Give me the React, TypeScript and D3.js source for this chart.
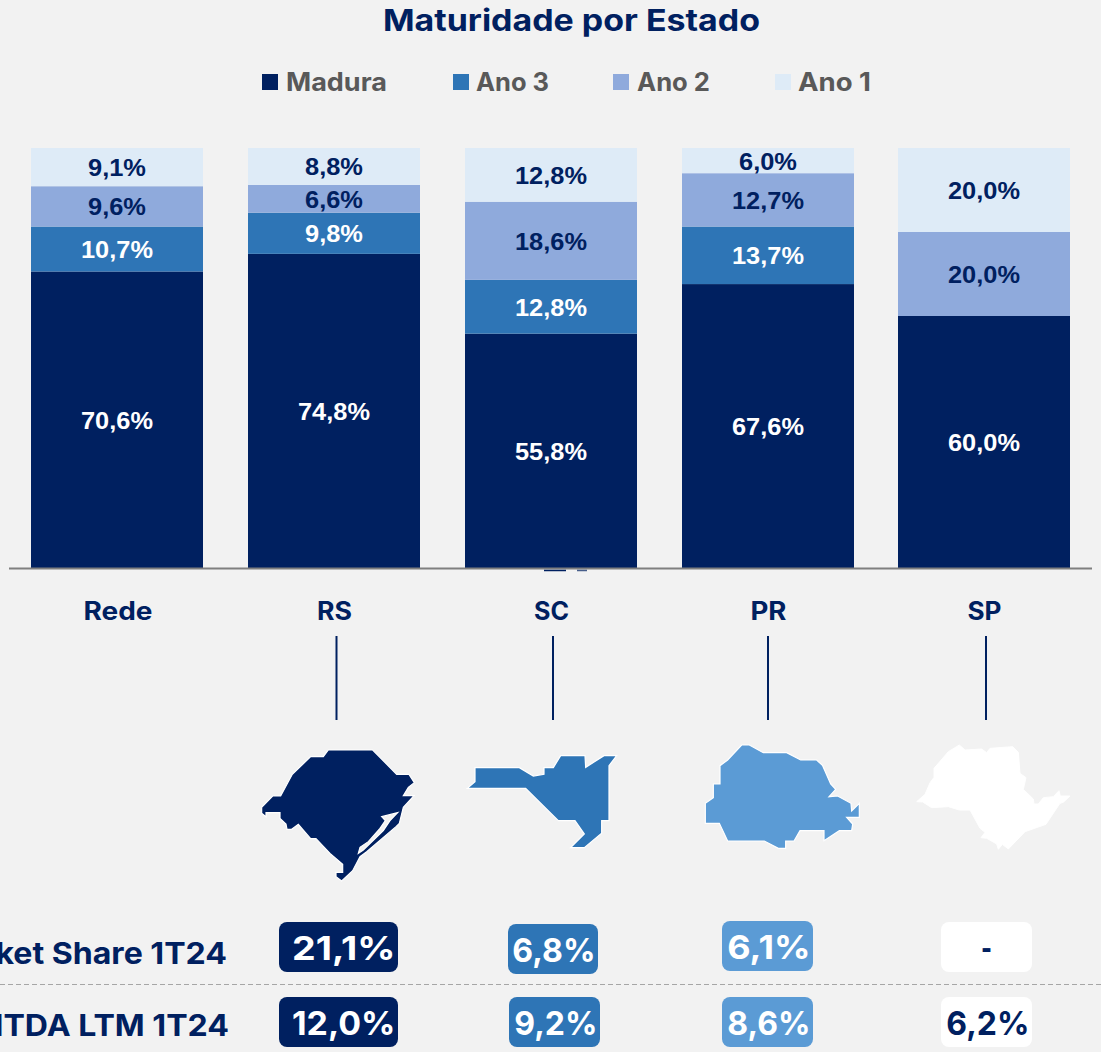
import React from "react";
import * as d3 from "d3";

const categories = ["Rede", "RS", "SC", "PR", "SP"];
const seriesNames = ["Madura", "Ano 3", "Ano 2", "Ano 1"];
const madura = [70.6, 74.8, 55.8, 67.6, 60.0];
const ano3 = [10.7, 9.8, 12.8, 13.7, 0];
const ano2 = [9.6, 6.6, 18.6, 12.7, 20.0];
const ano1 = [9.1, 8.8, 12.8, 6.0, 20.0];
const seriesValues = [madura, ano3, ano2, ano1];
const seriesColors = ["#002060", "#2E75B6", "#8FAADC", "#DEEBF7"];
const labelColors = ["#ffffff", "#ffffff", "#002060", "#002060"];
const legendX = [262, 453, 613, 775];
const legendTextX = [286, 476, 637, 798];
const legendTextW = [101, 73, 73, 73];

const barLeft = [31, 248, 465, 682, 898];
const barWidth = 172;
const catW = [69, 35, 35, 36, 34];

const marketShare = ["21,1%", "6,8%", "6,1%", "-"];
const ebitda = ["12,0%", "9,2%", "8,6%", "6,2%"];
const stateColors = ["#002060", "#2E75B6", "#5B9BD5", "#ffffff"];
const leaderX = [336.5, 553, 768, 986];
const row1Boxes = [[279, 922, 119], [508, 924, 90], [722, 921, 91], [941, 922, 91]];
const row2Boxes = [[279, 997, 119], [509, 997, 91], [722, 997, 91], [941, 997, 91]];

type P = [number, number];
const rsOutline: P[] = [[265,60],[398,60],[470,133],[507,133],[523,158],[505,172],[490,197],[522,197],[490,232],[478,280],[468,290],[380,365],[360,380],[338,422],[305,453],[288,440],[288,427],[308,427],[308,403],[270,370],[228,326],[212,326],[175,283],[155,298],[141,298],[138,282],[120,265],[120,248],[78,248],[78,260],[65,250],[65,232],[98,198],[122,198],[157,133],[212,80],[250,80]];
const rsLagoon: P[] = [[473,248],[425,260],[436,272],[420,295],[385,335],[360,352],[355,370],[370,360],[430,302],[450,272]];
const scOutline: P[] = [[705,113],[838,113],[880,138],[912,133],[912,113],[940,113],[962,77],[1035,77],[1037,112],[1092,77],[1130,77],[1107,107],[1107,272],[1085,272],[1085,310],[1033,353],[992,353],[1033,312],[1005,272],[955,272],[857,175],[682,175],[705,155]];
const prOutline: P[] = [[185,45],[208,45],[250,68],[320,68],[362,90],[410,90],[428,107],[452,162],[467,178],[447,200],[473,198],[513,220],[515,243],[538,220],[538,262],[500,262],[518,282],[515,302],[478,302],[432,332],[432,302],[360,302],[342,333],[317,333],[317,355],[295,355],[253,333],[143,333],[118,280],[76,280],[76,220],[100,203],[100,162],[120,162],[120,107],[143,90]];
const spOutline: P[] = [[838,45],[855,60],[905,57],[920,68],[930,55],[998,50],[1015,67],[1020,130],[1038,143],[1030,178],[1060,207],[1062,222],[1075,222],[1090,203],[1120,200],[1137,182],[1141,198],[1170,198],[1150,217],[1140,220],[1098,283],[1035,305],[985,357],[967,343],[955,358],[950,342],[920,325],[903,323],[915,307],[900,295],[870,240],[838,240],[805,230],[755,233],[728,216],[710,215],[735,193],[750,158],[762,142],[762,115],[805,65]];

const NAVY = "#002060";
const SANS = "'Liberation Sans', Arial, sans-serif";
const DISPLAY = "Inter, 'Noto Sans', sans-serif";

const y = d3.scaleLinear().domain([0, 100]).range([568, 148]);
const line = d3.line<P>().curve(d3.curveLinearClosed);
const map = (pts: P[], ox: number, oy: number) =>
  line(pts.map(([a, b]) => [ox + a / 3, oy + b / 3] as P)) as string;

const stack = d3
  .stack<number>()
  .keys(seriesNames.map((_, i) => i) as any)
  .value((d: any, k: any) => seriesValues[k][d])(categories.map((_, i) => i));

const glyphW = (s: string) =>
  d3.sum(Array.from(s), (c) => (c === "," ? 0.278 : c === "%" ? 0.889 : 0.556));

function Fit(props: any) {
  const { w, children, ...rest } = props;
  return (
    <text textLength={w} lengthAdjust="spacingAndGlyphs" {...rest}>
      {children}
    </text>
  );
}

function Badge({ box, text, fill, color }: any) {
  const [x, yy, w] = box;
  const h = 50;
  const tw = text === "-" ? 11 : glyphW(text) * 36.5;
  const tx = text === "-" ? x + w / 2 - 5.5 : x + w - 2.5 - tw;
  return (
    <g>
      <rect x={x} y={yy} width={w} height={h} rx={8} fill={fill} />
      <Fit x={tx} y={yy + 38} w={tw} fontFamily={DISPLAY} fontWeight={700} fontSize={33} fill={color}
        textAnchor="start">
        {text}
      </Fit>
    </g>
  );
}

export default function App() {
  return (
    <svg width={1101} height={1052} viewBox="0 0 1101 1052"
      style={{ position: "fixed", left: 0, top: 0, display: "block", background: "#F2F2F2" }}>
      <rect width={1101} height={1052} fill="#F2F2F2" />
      <Fit x={383} y={31} w={377} fontFamily={DISPLAY} fontWeight={700} fontSize={30} fill={NAVY}>
        Maturidade por Estado
      </Fit>
      {seriesNames.map((n, i) => (
        <g key={n}>
          <rect x={legendX[i]} y={74} width={16} height={16} fill={seriesColors[i]} />
          <Fit x={legendTextX[i]} y={91} w={legendTextW[i]} fontFamily={DISPLAY} fontWeight={700}
            fontSize={25} fill="#595959">
            {n}
          </Fit>
        </g>
      ))}
      {stack.map((s, k) =>
        s.map((d, i) =>
          d[1] - d[0] > 0 ? (
            <g key={`${k}-${i}`}>
              <rect x={barLeft[i]} y={y(d[1])} width={barWidth} height={y(d[0]) - y(d[1])} fill={seriesColors[k]} />
              {(() => {
                const t = seriesValues[k][i].toFixed(1).replace(".", ",") + "%";
                return (
                  <Fit x={barLeft[i] + barWidth / 2} y={y((d[0] + d[1]) / 2) + 9} w={glyphW(t) * 25.4}
                    textAnchor="middle" fontFamily={SANS} fontWeight={700} fontSize={24} fill={labelColors[k]}>
                    {t}
                  </Fit>
                );
              })()}
            </g>
          ) : null
        )
      )}
      <line x1={9} x2={1092} y1={568.5} y2={568.5} stroke="#7F7F7F" strokeWidth={2} />
      <line x1={544} x2={566} y1={570.5} y2={570.5} stroke={NAVY} strokeWidth={1.5} />
      <line x1={577} x2={587} y1={570.5} y2={570.5} stroke={NAVY} strokeWidth={1.5} opacity={0.7} />
      {categories.map((c, i) => (
        <Fit key={c} x={barLeft[i] + barWidth / 2 + (i === 0 ? 1 : i === 1 ? 0.5 : 0.5)} y={620} textAnchor="middle" w={catW[i]}
          fontFamily={DISPLAY} fontWeight={700} fontSize={25} fill={NAVY}>
          {c}
        </Fit>
      ))}
      {leaderX.map((x) => (
        <line key={x} x1={x} x2={x} y1={636} y2={720} stroke={NAVY} strokeWidth={2} />
      ))}
      <path d={map(rsOutline, 240, 730) + map(rsLagoon, 240, 730)} fill={stateColors[0]} fillRule="evenodd"
        stroke="#fff" strokeWidth={1.2} strokeLinejoin="miter" strokeMiterlimit={10} />
      <path d={map(scOutline, 240, 730)} fill={stateColors[1]} stroke="#fff" strokeWidth={1.2} strokeMiterlimit={10} />
      <path d={map(prOutline, 680, 730)} fill={stateColors[2]} stroke="#fff" strokeWidth={1.2} strokeMiterlimit={10} />
      <path d={map(spOutline, 680, 730)} fill={stateColors[3]} stroke="#fff" strokeWidth={1} />

      <g transform="translate(227 964) scale(1.07 1)">
        <text x={0} y={0} textAnchor="end" fontFamily={DISPLAY} fontWeight={700} fontSize={30} fill={NAVY}>
          Market Share 1T24
        </text>
      </g>
      <line x1={0} x2={1101} y1={984.5} y2={984.5} stroke="#A6A6A6" strokeWidth={1} strokeDasharray="5 3" />
      <g transform="translate(229 1036) scale(1.07 1)">
        <text x={0} y={0} textAnchor="end" fontFamily={DISPLAY} fontWeight={700} fontSize={30} fill={NAVY}>
          EBITDA LTM 1T24
        </text>
      </g>
      {marketShare.map((t, i) => (
        <Badge key={i} box={row1Boxes[i]} text={t} fill={stateColors[i]} color={i === 3 ? NAVY : "#fff"} />
      ))}
      {ebitda.map((t, i) => (
        <Badge key={i} box={row2Boxes[i]} text={t} fill={stateColors[i]} color={i === 3 ? NAVY : "#fff"} />
      ))}
    </svg>
  );
}
